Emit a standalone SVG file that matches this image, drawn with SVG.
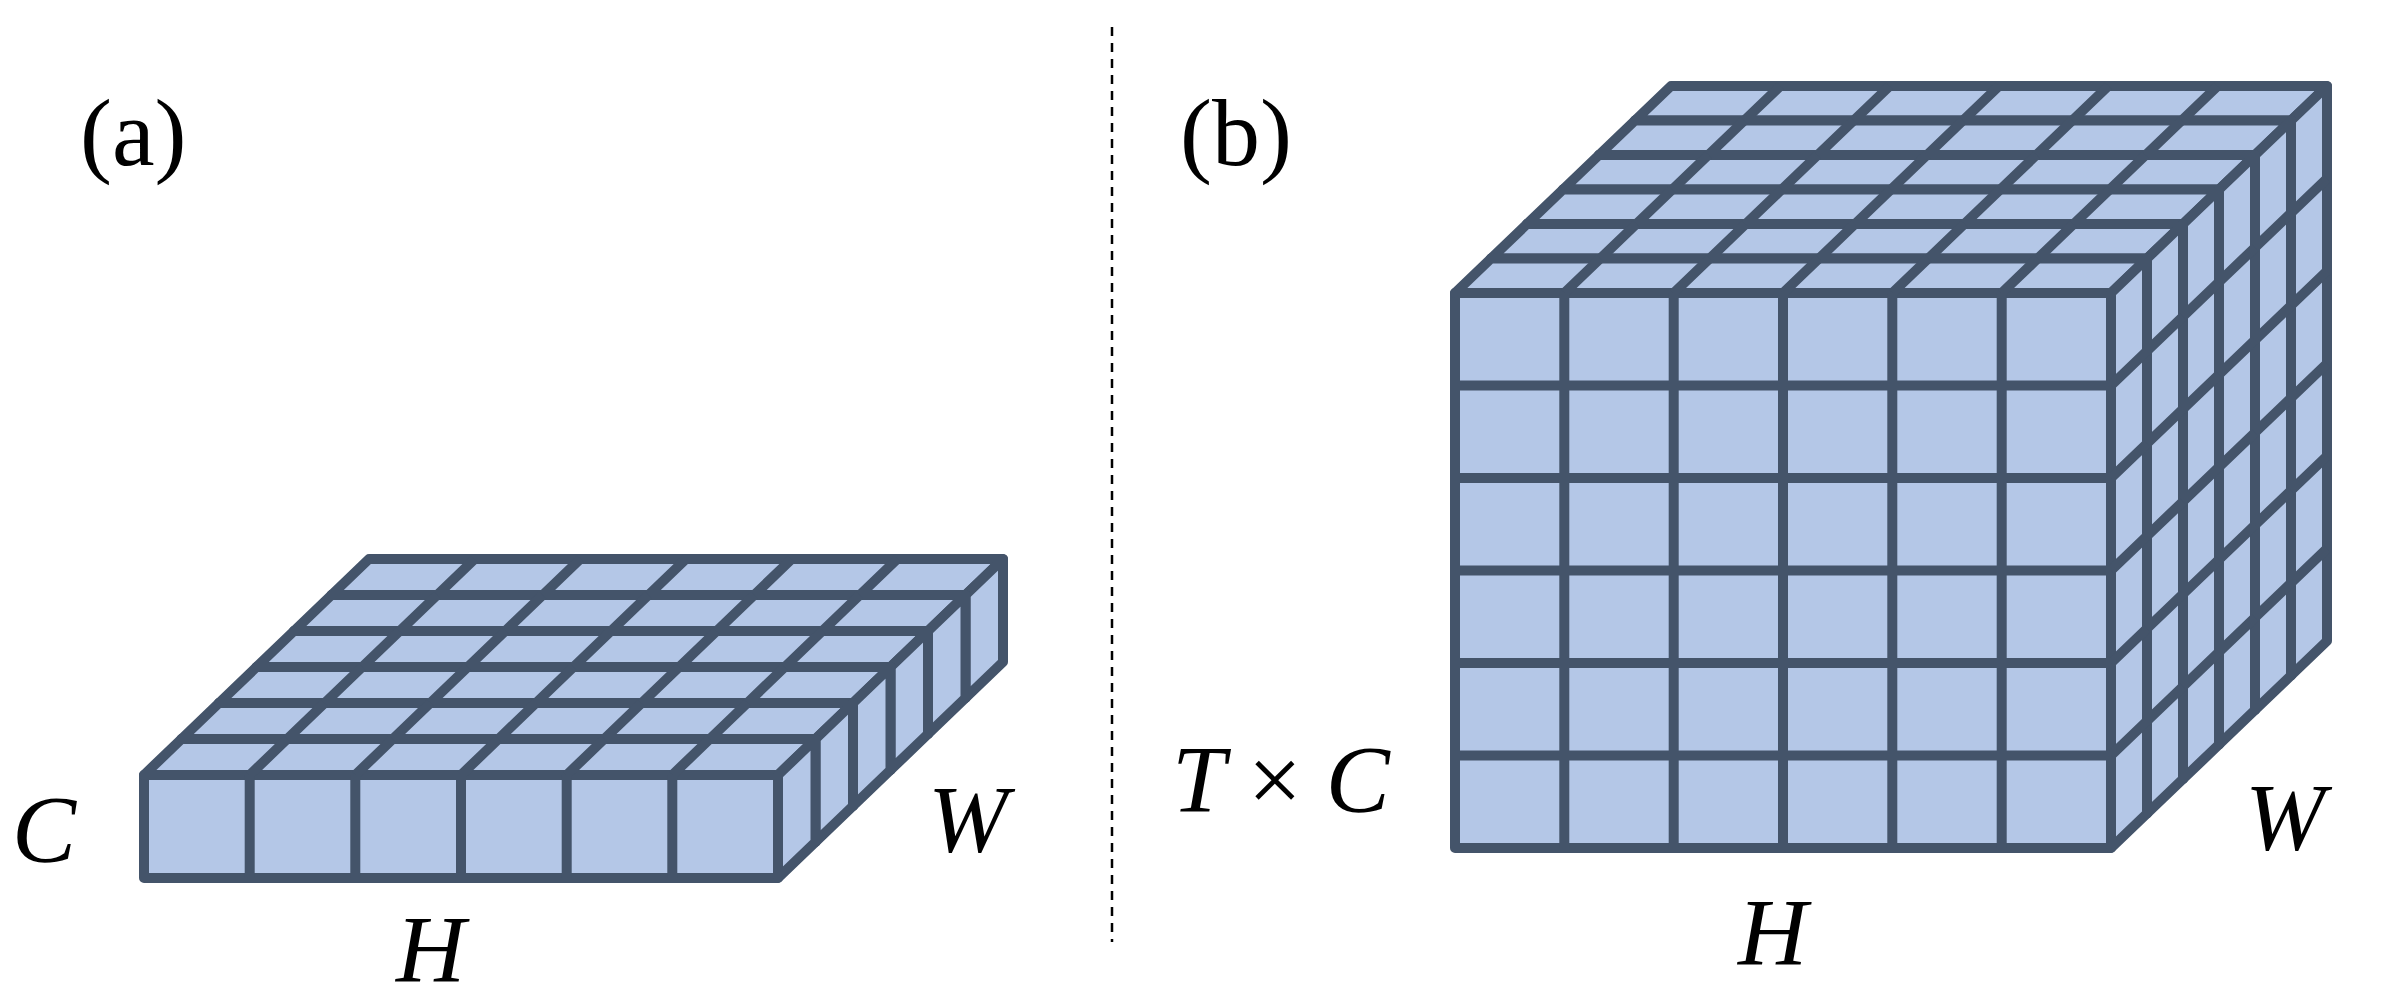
<svg xmlns="http://www.w3.org/2000/svg" xmlns:xlink="http://www.w3.org/1999/xlink" width="2382" height="1008" viewBox="0 0 2382 1008">
<style>
.c{fill:#b4c7e7;stroke:#44546a;stroke-width:10;stroke-linejoin:round}
.l{stroke:#44546a;stroke-width:10;fill:none}
.t{font-family:"Liberation Serif",serif;fill:#000}
.m{font-family:"Liberation Serif",serif;font-style:italic;fill:#000}
</style>
<defs>
<g id="slabA">
<rect class="c" x="0" y="0" width="634" height="103"/>
<polygon class="c" points="0,0 634,0 671.5,-36 37.5,-36"/>
<polygon class="c" points="634,0 671.5,-36 671.5,67 634,103"/>
<path class="l" d="M105.7,0v103M211.3,0v103M317,0v103M422.7,0v103M528.3,0v103M105.7,0l37.5,-36M211.3,0l37.5,-36M317,0l37.5,-36M422.7,0l37.5,-36M528.3,0l37.5,-36"/>
</g>
<g id="slabB">
<rect class="c" x="0" y="0" width="656" height="555"/>
<polygon class="c" points="0,0 656,0 692,-34.5 36,-34.5"/>
<polygon class="c" points="656,0 692,-34.5 692,520.5 656,555"/>
<path class="l" d="M109.3,0v555M218.7,0v555M328,0v555M437.3,0v555M546.7,0v555M0,92.5h656M0,185h656M0,277.5h656M0,370h656M0,462.5h656M109.3,0l36,-34.5M218.7,0l36,-34.5M328,0l36,-34.5M437.3,0l36,-34.5M546.7,0l36,-34.5M656,92.5l36,-34.5M656,185l36,-34.5M656,277.5l36,-34.5M656,370l36,-34.5M656,462.5l36,-34.5"/>
</g>
</defs>
<rect width="2382" height="1008" fill="#fff"/>
<g id="tensor-a">
<use xlink:href="#slabA" x="331.5" y="595"/>
<use xlink:href="#slabA" x="294" y="631"/>
<use xlink:href="#slabA" x="256.5" y="667"/>
<use xlink:href="#slabA" x="219" y="703"/>
<use xlink:href="#slabA" x="181.5" y="739"/>
<use xlink:href="#slabA" x="144" y="775"/>
</g>
<g id="tensor-b">
<use xlink:href="#slabB" x="1635" y="120.5"/>
<use xlink:href="#slabB" x="1599" y="155"/>
<use xlink:href="#slabB" x="1563" y="189.5"/>
<use xlink:href="#slabB" x="1527" y="224"/>
<use xlink:href="#slabB" x="1491" y="258.5"/>
<use xlink:href="#slabB" x="1455" y="293"/>
</g>
<g id="connectors">
<line x1="1112" y1="27" x2="1112" y2="942" stroke="#000" stroke-width="2.5" stroke-dasharray="9,7"/>
</g>
<g id="labels">
<text class="t" x="80" y="165" font-size="96">(a)</text>
<text class="t" x="1180" y="165" font-size="96">(b)</text>
<text class="m" x="12" y="862" font-size="96">C</text>
<text class="m" x="928" y="852" font-size="96">W</text>
<text class="m" x="396" y="982" font-size="96">H</text>
<text class="m" x="1172" y="812" font-size="96">T <tspan font-style="normal">×</tspan> C</text>
<text class="m" x="2245" y="850" font-size="96">W</text>
<text class="m" x="1738" y="965" font-size="96">H</text>
</g>
</svg>
